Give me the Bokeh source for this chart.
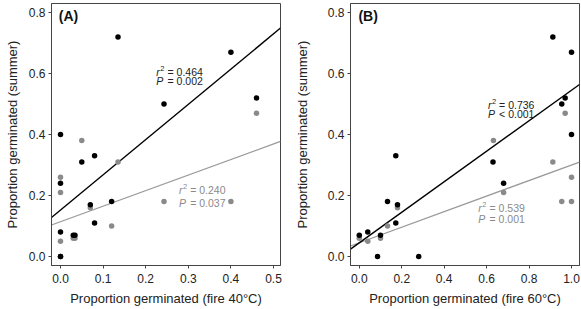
from bokeh.plotting import figure
from bokeh.layouts import row
from bokeh.models import FixedTicker, Range1d
from bokeh.core.properties import value
from bokeh.embed import file_html
from bokeh.resources import INLINE

# ---- data ----
a_black_x = [0, 0, 0, 0, 0, 0.03, 0.034, 0.05, 0.07, 0.08, 0.08, 0.12, 0.135, 0.243, 0.40, 0.46]
a_black_y = [0, 0, 0.08, 0.24, 0.40, 0.07, 0.07, 0.31, 0.17, 0.33, 0.11, 0.18, 0.72, 0.50, 0.67, 0.52]
a_gray_x = [0, 0, 0, 0.03, 0.034, 0.05, 0.07, 0.12, 0.135, 0.243, 0.40, 0.46]
a_gray_y = [0.26, 0.21, 0.05, 0.06, 0.06, 0.38, 0.16, 0.10, 0.31, 0.18, 0.18, 0.47]

b_black_x = [0, 0.04, 0.086, 0.10, 0.133, 0.172, 0.18, 0.172, 0.28, 0.63, 0.68, 0.912, 0.954, 0.97, 1.0, 1.0]
b_black_y = [0.07, 0.08, 0.0, 0.07, 0.18, 0.11, 0.17, 0.33, 0.0, 0.31, 0.24, 0.72, 0.50, 0.52, 0.67, 0.40]
b_gray_x = [0, 0.04, 0.10, 0.133, 0.18, 0.632, 0.68, 0.912, 0.954, 0.97, 1.0, 1.0]
b_gray_y = [0.06, 0.05, 0.06, 0.10, 0.16, 0.38, 0.21, 0.31, 0.18, 0.47, 0.26, 0.18]

# regression fits: (intercept, slope)
a_black_fit = (0.152, 1.156)
a_gray_fit = (0.114, 0.510)
b_black_fit = (0.045, 0.500)
b_gray_fit = (0.045, 0.255)

a_black_stats = ("0.464", "=", "0.002")
a_gray_stats = ("0.240", "=", "0.037")
b_black_stats = ("0.736", "<", "0.001")
b_gray_stats = ("0.539", "=", "0.001")

y_ticks = [0.0, 0.2, 0.4, 0.6, 0.8]
a_x_ticks = [0.0, 0.1, 0.2, 0.3, 0.4, 0.5]
b_x_ticks = [0.0, 0.2, 0.4, 0.6, 0.8, 1.0]

FONT = "Liberation Sans"
BLACK = "#000000"
GRAY = "#8a8a8a"
GRAY_LINE = "#999999"
TXT = "#222222"
NB = "\u00a0"


def make_panel(width, border_left, border_right, xr, ticks_x, xlabel, ylabel_standoff):
    p = figure(width=width, height=309, output_backend="svg", toolbar_location=None,
               x_range=Range1d(*xr), y_range=Range1d(-0.0295, 0.8295),
               min_border_left=border_left, min_border_right=border_right,
               min_border_top=3, min_border_bottom=44)
    p.background_fill_color = "white"
    p.border_fill_color = "white"
    p.outline_line_color = "#444444"
    p.outline_line_width = 1
    p.xgrid.grid_line_color = None
    p.ygrid.grid_line_color = None
    p.xaxis.ticker = FixedTicker(ticks=ticks_x)
    p.yaxis.ticker = FixedTicker(ticks=y_ticks)
    p.xaxis.major_label_overrides = {t: f"{t:.1f}" for t in ticks_x}
    p.yaxis.major_label_overrides = {t: f"{t:.1f}" for t in y_ticks}
    for ax in (p.xaxis, p.yaxis):
        ax.minor_tick_line_color = None
        ax.major_tick_in = 0
        ax.major_tick_out = 3
        ax.major_tick_line_color = "#444444"
        ax.axis_line_color = "#444444"
        ax.major_label_text_font = FONT
        ax.major_label_text_font_size = "12px"
        ax.major_label_text_color = TXT
        ax.axis_label_text_font = FONT
        ax.axis_label_text_font_size = "13px"
        ax.axis_label_text_font_style = "normal"
        ax.axis_label_text_color = TXT
    p.xaxis.major_label_standoff = 5
    p.yaxis.major_label_standoff = 3
    p.xaxis.axis_label = xlabel
    p.yaxis.axis_label = "Proportion germinated (summer)"
    p.xaxis.axis_label_standoff = 5
    p.yaxis.axis_label_standoff = ylabel_standoff
    return p


def add_fit(p, fit, xr, color, width):
    x0, x1 = xr
    b, m = fit
    p.line([x0, x1], [b + m * x0, b + m * x1], line_color=color, line_width=width)


def add_stats(p, x, y1, y2, stats, color):
    r2, op, pv = stats
    common = dict(text_font=value(FONT), text_color=color,
                  text_baseline="middle", text_align="left")
    p.text(x=[x], y=[y1], text=["r"], text_font_style="italic", text_font_size="10.5px", **common)
    p.text(x=[x], y=[y1], text=["2"], x_offset=4.0, y_offset=-3.5, text_font_size="7.5px", **common)
    p.text(x=[x], y=[y1], text=[f"{NB}={NB}{r2}"], x_offset=8.3, text_font_size="10.5px", **common)
    p.text(x=[x], y=[y2], text=["P"], text_font_style="italic", text_font_size="10.5px", **common)
    p.text(x=[x], y=[y2], text=[f"{NB}{op}{NB}{pv}"], x_offset=8.3, text_font_size="10.5px", **common)


def add_tag(p, x, label):
    p.text(x=[x], y=[0.789], text=[label], text_font=value(FONT), text_font_size="14px",
           text_font_style="bold", text_color="#111111", text_baseline="middle", text_align="left")


# ---- panel A ----
a_xr = (-0.0211, 0.5164)
pa = make_panel(290, 51, 10, a_xr, a_x_ticks, "Proportion germinated (fire 40\u00b0C)", 6)
add_fit(pa, a_gray_fit, a_xr, GRAY_LINE, 1.3)
add_fit(pa, a_black_fit, a_xr, BLACK, 1.4)
pa.scatter(a_gray_x, a_gray_y, size=5.5, fill_color=GRAY, line_color=None)
pa.scatter(a_black_x, a_black_y, size=5.5, fill_color=BLACK, line_color=None)
add_stats(pa, 0.225, 0.606, 0.575, a_black_stats, "#222222")
add_stats(pa, 0.278, 0.219, 0.177, a_gray_stats, GRAY)
add_tag(pa, -0.004, "(A)")

# ---- panel B ----
b_xr = (-0.0414, 1.0376)
pb = make_panel(291, 60, 2, b_xr, b_x_ticks, "Proportion germinated (fire 60\u00b0C)", 15)
add_fit(pb, b_gray_fit, b_xr, GRAY_LINE, 1.3)
add_fit(pb, b_black_fit, b_xr, BLACK, 1.4)
pb.scatter(b_gray_x, b_gray_y, size=5.5, fill_color=GRAY, line_color=None)
pb.scatter(b_black_x, b_black_y, size=5.5, fill_color=BLACK, line_color=None)
add_stats(pb, 0.606, 0.498, 0.466, b_black_stats, "#222222")
add_stats(pb, 0.561, 0.158, 0.122, b_gray_stats, GRAY)
add_tag(pb, -0.004, "(B)")

layout = row(pa, pb)
open("out.html", "w").write(file_html(layout, INLINE))
